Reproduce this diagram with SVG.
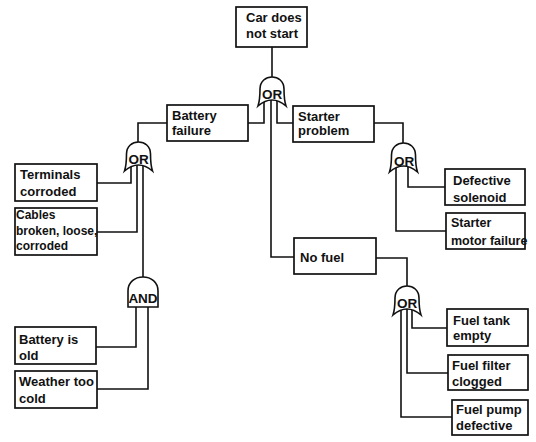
<svg xmlns="http://www.w3.org/2000/svg" width="536" height="442" viewBox="0 0 536 442">
<defs>
<style>
.box{fill:#fff;stroke:#111;stroke-width:1.7}
.gate{fill:#fff;stroke:#111;stroke-width:1.6}
.t{font-family:"Liberation Sans",Arial,sans-serif;font-weight:bold;font-size:13px;fill:#111}
.g{font-family:"Liberation Sans",Arial,sans-serif;font-weight:bold;font-size:13.5px;fill:#111;text-anchor:middle}
.c{fill:none;stroke:#111;stroke-width:1.6}
</style>
<path id="org" d="M-14,29 C-12,23 -12,15 -12,12 C-12,4 -6,0 0,0 C6,0 12,4 12,12 C12,15 12,23 14,29 Q0,17 -14,29 Z"/>
<path id="andg" d="M-15,30 L-15,14 C-15,5 -8,0 0,0 C8,0 15,5 15,14 L15,30 Z"/>
</defs>
<rect width="536" height="442" fill="#fff"/>
<g id="connectors" class="c">
<path d="M272,47 V77"/>
<path d="M264,101 V123 H248"/>
<path d="M277,101 V123 H293"/>
<path d="M271,100 V257 H294"/>
<path d="M167,123 H138 V142"/>
<path d="M131,165 V183 H97"/>
<path d="M137,164 V232 H97"/>
<path d="M143,165 V277"/>
<path d="M136,307 V347 H96"/>
<path d="M148,307 V389 H97"/>
<path d="M374,123 H403 V143"/>
<path d="M408,167 V187 H445"/>
<path d="M396,168 V231 H446"/>
<path d="M376,258 H407 V287"/>
<path d="M412,310 V328 H447"/>
<path d="M407,309 V373 H448"/>
<path d="M401,310 V417 H452"/>
</g>
<g id="top-event"><rect class="box" x="236" y="7" width="71" height="40"/><text class="t" x="246" y="22">Car does</text><text class="t" x="246" y="38">not start</text></g>
<g id="gate-top"><use href="#org" class="gate" x="272" y="77"/><text class="g" x="272" y="99">OR</text></g>
<g id="battery-failure"><rect class="box" x="167" y="105" width="81" height="36"/><text class="t" x="172" y="120">Battery</text><text class="t" x="172" y="135">failure</text></g>
<g id="starter-problem"><rect class="box" x="293" y="106" width="81" height="36"/><text class="t" x="298" y="121">Starter</text><text class="t" x="298" y="135">problem</text></g>
<g id="gate-battery"><use href="#org" class="gate" x="138.5" y="142"/><text class="g" x="138.5" y="164">OR</text></g>
<g id="terminals"><rect class="box" x="15" y="164" width="82" height="37"/><text class="t" x="20" y="179">Terminals</text><text class="t" x="20" y="196">corroded</text></g>
<g id="cables"><rect class="box" x="15" y="208" width="82" height="47"/><text class="t" x="16" y="219" style="font-size:12px">Cables</text><text class="t" x="16" y="235" style="font-size:12px">broken, loose,</text><text class="t" x="16" y="250" style="font-size:12px">corroded</text></g>
<g id="gate-and"><use href="#andg" class="gate" x="143" y="277"/><text class="g" x="143" y="303">AND</text></g>
<g id="battery-old"><rect class="box" x="15" y="327" width="81" height="37"/><text class="t" x="19" y="344">Battery is</text><text class="t" x="19" y="360">old</text></g>
<g id="weather"><rect class="box" x="15" y="371" width="82" height="37"/><text class="t" x="19" y="386">Weather too</text><text class="t" x="19" y="403">cold</text></g>
<g id="gate-starter"><use href="#org" class="gate" x="403.5" y="143"/><text class="g" x="404" y="166">OR</text></g>
<g id="solenoid"><rect class="box" x="445" y="169" width="80" height="36"/><text class="t" x="453" y="185">Defective</text><text class="t" x="453" y="202">solenoid</text></g>
<g id="starter-motor"><rect class="box" x="446" y="213" width="79" height="36"/><text class="t" x="451" y="227" style="font-size:12.5px">Starter</text><text class="t" x="451" y="245" style="font-size:12.5px">motor failure</text></g>
<g id="no-fuel"><rect class="box" x="294" y="238" width="82" height="36"/><text class="t" x="300" y="262">No fuel</text></g>
<g id="gate-fuel"><use href="#org" class="gate" x="407" y="286"/><text class="g" x="407" y="308">OR</text></g>
<g id="tank"><rect class="box" x="447" y="309" width="81" height="37"/><text class="t" x="453" y="325">Fuel tank</text><text class="t" x="453" y="340">empty</text></g>
<g id="filter"><rect class="box" x="448" y="355" width="80" height="35"/><text class="t" x="452" y="370">Fuel filter</text><text class="t" x="452" y="386">clogged</text></g>
<g id="pump"><rect class="box" x="452" y="400" width="76" height="35"/><text class="t" x="456" y="414">Fuel pump</text><text class="t" x="456" y="430">defective</text></g>
</svg>
